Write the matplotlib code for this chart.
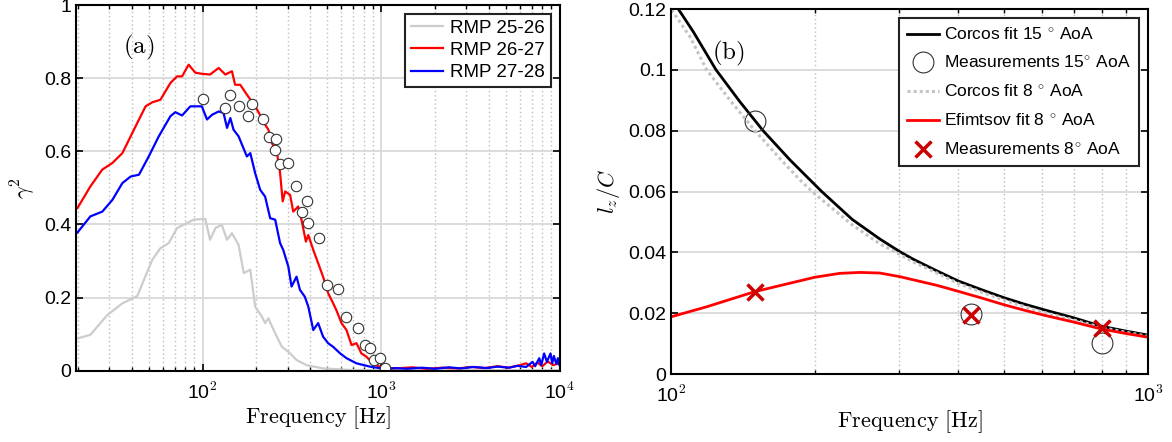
import matplotlib
matplotlib.use('agg')
from matplotlib import pyplot as plt
from matplotlib.ticker import LogLocator, NullFormatter, FixedLocator

plt.rcParams['font.family'] = ['Liberation Sans', 'DejaVu Sans']
plt.rcParams['mathtext.fontset'] = 'cm'

# ---- panel (a): coherence ----
f_gray = [19.9, 23.5, 29.2, 35.5, 43, 52.2, 58, 64.6, 71.9, 89, 103.5, 110, 118, 128,
          137, 146, 159, 170, 185, 197, 214.6, 224, 233.6, 255, 278, 302, 336, 382,
          473, 670, 1000, 10000]
g_gray = [0.088, 0.098, 0.152, 0.184, 0.204, 0.303, 0.335, 0.349, 0.39, 0.413, 0.415,
          0.358, 0.39, 0.399, 0.358, 0.376, 0.344, 0.267, 0.276, 0.175, 0.148, 0.13,
          0.143, 0.102, 0.065, 0.052, 0.029, 0.015, 0.006, 0.002, 0.001, 0.001]

f_red = [19.9, 23.5, 27.4, 31.2, 35.5, 41.2, 47.9, 52.2, 58, 66, 71.9, 76.7, 83.5, 91,
         99, 110, 123, 134, 146, 152, 162.5, 177, 197, 214.6, 224, 233.6, 244, 260,
         271.6, 281, 290, 309, 322, 343, 358, 379, 391, 417, 444, 473, 505, 539, 562,
         600, 640, 683, 728, 776, 828, 898, 977, 1050, 1200, 1500, 1800, 2200, 2700,
         3200, 3800, 4500, 5200, 6000, 6500, 7000, 7500, 8000, 8600, 9200, 10000]
g_red = [0.445, 0.504, 0.55, 0.568, 0.595, 0.659, 0.723, 0.734, 0.741, 0.787, 0.805,
         0.805, 0.837, 0.815, 0.812, 0.81, 0.828, 0.81, 0.819, 0.782, 0.782, 0.755,
         0.723, 0.691, 0.673, 0.659, 0.623, 0.6, 0.541, 0.463, 0.49, 0.481, 0.435,
         0.449, 0.413, 0.353, 0.371, 0.33, 0.294, 0.257, 0.212, 0.184, 0.165, 0.13,
         0.111, 0.07, 0.075, 0.047, 0.038, 0.02, 0.011, 0.008, 0.006, 0.009, 0.005,
         0.008, 0.006, 0.01, 0.007, 0.012, 0.008, 0.015, 0.02, 0.01, 0.022, 0.012,
         0.025, 0.015, 0.02]

f_blue = [19.9, 23.5, 27.4, 31.2, 35.5, 39.5, 44, 49.9, 56.8, 66, 70.3, 76.7, 85.3, 99,
          105.8, 113, 123, 131, 137, 143, 149, 159, 177, 185, 197, 210, 224, 239, 255,
          271.6, 283, 302, 315, 336, 351, 374, 391, 417, 444, 473, 505, 539, 590, 640,
          728, 865, 1070, 1200, 1400, 1700, 2000, 2400, 2800, 3300, 3900, 4500, 5200,
          5800, 6500, 7060, 7300, 7700, 7900, 8200, 8500, 8900, 9100, 9300, 9600, 9800,
          10000]
g_blue = [0.378, 0.422, 0.435, 0.467, 0.513, 0.531, 0.536, 0.586, 0.641, 0.696, 0.707,
          0.698, 0.723, 0.723, 0.687, 0.7, 0.709, 0.705, 0.664, 0.691, 0.659, 0.641,
          0.586, 0.595, 0.54, 0.495, 0.476, 0.417, 0.413, 0.349, 0.33, 0.285, 0.23,
          0.257, 0.221, 0.202, 0.175, 0.111, 0.13, 0.093, 0.075, 0.065, 0.047, 0.034,
          0.02, 0.011, 0.004, 0.007, 0.005, 0.008, 0.005, 0.009, 0.006, 0.01, 0.007,
          0.011, 0.008, 0.013, 0.01, 0.024, 0.012, 0.034, 0.015, 0.047, 0.024, 0.047,
          0.02, 0.04, 0.018, 0.034, 0.015]

f_meas = [100, 134, 143, 160, 179, 189, 218, 234, 259, 253, 272, 300, 332, 384, 362,
          392, 448, 497, 571, 635, 746, 808, 866, 907, 980, 1047]
g_meas = [0.742, 0.719, 0.754, 0.724, 0.697, 0.729, 0.689, 0.64, 0.633, 0.603, 0.564,
          0.569, 0.505, 0.463, 0.434, 0.404, 0.363, 0.235, 0.223, 0.148, 0.116, 0.07,
          0.061, 0.029, 0.034, 0.006]

# ---- panel (b): correlation length ----
f_c15 = [103.6, 111.4, 124.3, 139.5, 156, 177.6, 207, 240, 274, 302, 321.5, 360, 400,
         450, 501, 550, 603, 698, 799, 900, 1000]
l_c15 = [0.120, 0.1125, 0.100, 0.0895, 0.080, 0.0704, 0.060, 0.0508, 0.0444, 0.0402,
         0.0378, 0.0340, 0.0306, 0.0276, 0.0250, 0.0230, 0.0212, 0.0185, 0.0157,
         0.0141, 0.0128]

f_c8 = [100.3, 109.6, 118.8, 133, 150, 170, 186.4, 197.5, 240, 274, 302, 321.5, 360,
        400, 450, 501, 550, 603, 698, 799, 900, 1000]
l_c8 = [0.1197, 0.1109, 0.100, 0.090, 0.080, 0.0705, 0.0638, 0.060, 0.049, 0.0428,
        0.0393, 0.0369, 0.0333, 0.0298, 0.0268, 0.0242, 0.0222, 0.0203, 0.0178,
        0.0153, 0.0137, 0.0124]

f_ef = [100, 118.8, 150, 200, 226, 249, 274, 302, 321.5, 360, 400, 450, 501, 550, 603,
        698, 799, 900, 1000]
l_ef = [0.0188, 0.0221, 0.0271, 0.0318, 0.0331, 0.0334, 0.0332, 0.032, 0.031, 0.0292,
        0.0272, 0.0249, 0.0227, 0.021, 0.0194, 0.0171, 0.0148, 0.0133, 0.0121]

f_pts = [150, 424.6, 800]
l_m15 = [0.0833, 0.0197, 0.0101]
l_m8 = [0.0269, 0.0194, 0.015]

fig = plt.figure(figsize=(11.72, 4.42), dpi=100)
ax1 = fig.add_axes([0.0648, 0.1615, 0.4126, 0.8270])
ax2 = fig.add_axes([0.5725, 0.1538, 0.4070, 0.8258])

major_grid = dict(color='#d9d9d9', lw=1.3, ls='-')
minor_grid = dict(color='#bdbdbd', lw=1.0, ls=(0, (1, 2)))

for ax in (ax1, ax2):
    ax.set_xscale('log')
    ax.grid(True, which='major', **major_grid)
    ax.grid(True, which='minor', axis='x', **minor_grid)
    ax.set_axisbelow(True)
    ax.tick_params(which='both', direction='in', top=True, right=True, labelsize=14)
    ax.tick_params(axis='x', which='major', pad=8)
    ax.tick_params(which='major', length=5, width=1.2)
    ax.tick_params(which='minor', length=3, width=1.0)
    for s in ax.spines.values():
        s.set_linewidth(1.5)
    ax.xaxis.set_minor_locator(LogLocator(base=10, subs=range(2, 10), numticks=20))
    ax.xaxis.set_minor_formatter(NullFormatter())

# panel (a)
ax1.plot(f_gray, g_gray, color='#cccccc', lw=1.6, label='RMP 25-26')
ax1.plot(f_red, g_red, color='red', lw=1.6, label='RMP 26-27')
ax1.plot(f_blue, g_blue, color='blue', lw=1.6, label='RMP 27-28')
ax1.plot(f_meas, g_meas, 'o', ms=7.5, mfc='white', mec='#333333', mew=0.8)
ax1.set_xlim(19.5, 10000)
ax1.set_ylim(0, 1)
ax1.xaxis.set_major_locator(FixedLocator([100, 1000, 10000]))
ax1.set_xticklabels([r'10$^{\mathsf{2}}$', r'10$^{\mathsf{3}}$', r'10$^{\mathsf{4}}$'])
ax1.set_yticks([0, 0.2, 0.4, 0.6, 0.8, 1])
ax1.set_yticklabels(['0', '0.2', '0.4', '0.6', '0.8', '1'])
ax1.set_xlabel(r'$\mathrm{Frequency\ [Hz]}$', fontsize=16, labelpad=1)
ax1.set_ylabel(r'$\gamma^2$', fontsize=16, labelpad=4)
ax1.text(44, 0.885, r'$\mathrm{(a)}$', fontsize=18, ha='center', va='center')
leg1 = ax1.legend(loc='upper right', fontsize=13.5, fancybox=False, edgecolor='#222222',
                  framealpha=1, borderaxespad=0.48, handlelength=1.7, handletextpad=0.4,
                  borderpad=0.3, labelspacing=0.27)
leg1.get_frame().set_linewidth(1.5)

# panel (b)
ax2.plot(f_c15, l_c15, color='black', lw=2, label=r'Corcos fit 15 $^{\circ}$ AoA')
ax2.plot(f_pts, l_m15, 'o', ms=15, mfc='none', mec='#333333', mew=0.8,
         label=r'Measurements 15$^{\circ}$ AoA')
ax2.plot(f_c8, l_c8, color='#c4c4c4', lw=2.2, ls=(0, (1, 1)), label=r'Corcos fit 8 $^{\circ}$ AoA')
ax2.plot(f_ef, l_ef, color='red', lw=2, label=r'Efimtsov fit 8 $^{\circ}$ AoA')
ax2.plot(f_pts, l_m8, 'x', ms=11, mec='#cc0000', mew=2.5,
         label=r'Measurements 8$^{\circ}$ AoA')
ax2.set_xlim(100, 1000)
ax2.set_ylim(0, 0.12)
ax2.xaxis.set_major_locator(FixedLocator([100, 1000]))
ax2.set_xticklabels([r'10$^{\mathsf{2}}$', r'10$^{\mathsf{3}}$'])
ax2.set_yticks([0, 0.02, 0.04, 0.06, 0.08, 0.1, 0.12])
ax2.set_yticklabels(['0', '0.02', '0.04', '0.06', '0.08', '0.1', '0.12'])
ax2.set_xlabel(r'$\mathrm{Frequency\ [Hz]}$', fontsize=16, labelpad=1)
ax2.set_ylabel(r'$l_z/C$', fontsize=16, labelpad=4)
ax2.text(131.8, 0.1054, r'$\mathrm{(b)}$', fontsize=18, ha='center', va='center')
leg2 = ax2.legend(loc='upper right', fontsize=12.5, fancybox=False, edgecolor='#222222',
                  framealpha=1, borderaxespad=0.5, handlelength=1.8, handletextpad=0.3,
                  borderpad=0.5, labelspacing=0.72)
leg2.get_frame().set_linewidth(1.5)

fig.savefig('out.png', dpi=100)
